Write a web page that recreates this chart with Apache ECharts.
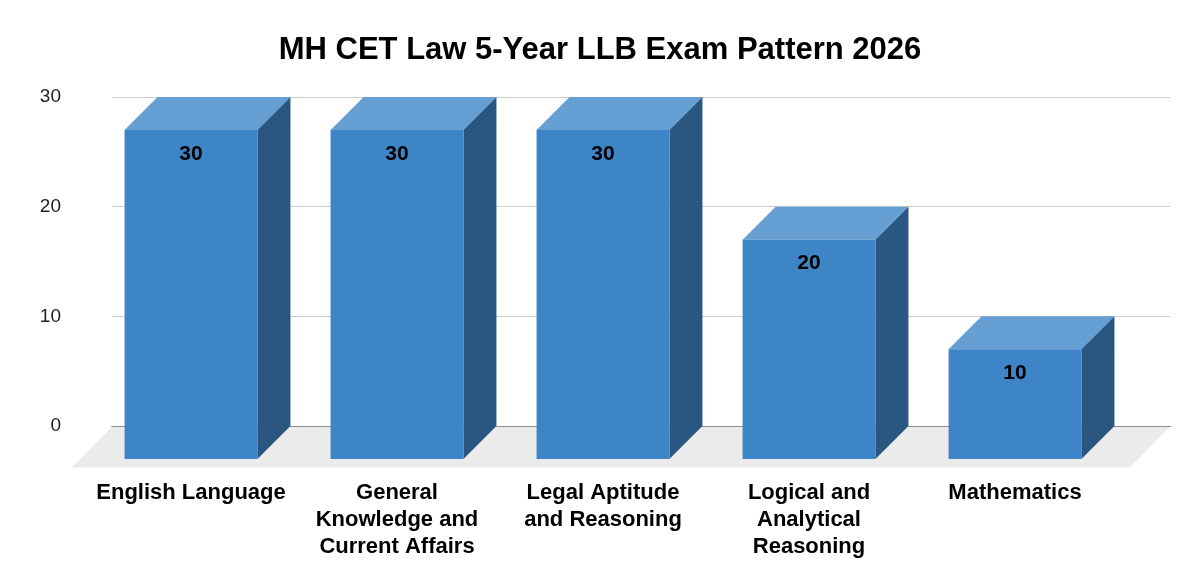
<!DOCTYPE html>
<html>
<head>
<meta charset="utf-8">
<title>MH CET Law 5-Year LLB Exam Pattern 2026</title>
<script src="https://cdn.jsdelivr.net/npm/echarts@6/dist/echarts.min.js"></script>
<style>
  html, body { margin: 0; padding: 0; background: #fff; }
  #chart-container { width: 1200px; height: 587px; }
</style>
</head>
<body>
<div id="chart-container"></div>
<script>
// data
var categories = [
  "English Language",
  "General\nKnowledge and\nCurrent Affairs",
  "Legal Aptitude\nand Reasoning",
  "Logical and\nAnalytical\nReasoning",
  "Mathematics"
];
var marks = [30, 30, 30, 20, 10];
var yTicks = [0, 10, 20, 30];

var depth = 33;      // 3d offset of bar box
var floorDepth = 40; // offset of the grey floor
var fontName = "Liberation Sans, Arial, sans-serif";

var dom = document.getElementById("chart-container");
var myChart = echarts.init(dom, null, { renderer: "canvas" });

function renderFloor(params, api) {
  var cs = params.coordSys;
  var yb = cs.y + cs.height + 0.5;
  return {
    type: "polygon",
    shape: {
      points: [
        [cs.x, yb],
        [cs.x + cs.width, yb],
        [cs.x + cs.width - floorDepth, yb + floorDepth + 1],
        [cs.x - floorDepth, yb + floorDepth + 1]
      ]
    },
    style: { fill: "#ebebeb" }
  };
}

function renderBar(params, api) {
  var v = api.value(1);
  var top = api.coord([api.value(0), v]);
  var base = api.coord([api.value(0), 0]);
  var w = api.size([1, 0])[0] * 0.645;
  var x0 = top[0] - w / 2;
  var x1 = top[0] + w / 2;
  var yT = top[1] + depth;
  var yB = base[1] + depth;
  return {
    type: "group",
    children: [
      {
        type: "polygon",
        shape: { points: [[x0, yT], [x1, yT], [x1 + depth, yT - depth], [x0 + depth, yT - depth]] },
        style: { fill: "#659fd3" }
      },
      {
        type: "polygon",
        shape: { points: [[x1, yT], [x1 + depth, yT - depth], [x1 + depth, yB - depth], [x1, yB]] },
        style: { fill: "#2a5781" }
      },
      {
        type: "rect",
        shape: { x: x0, y: yT, width: w, height: yB - yT },
        style: { fill: "#3d85c6" }
      },
      {
        type: "text",
        style: {
          text: String(v),
          x: top[0],
          y: yT + 24,
          align: "center",
          verticalAlign: "middle",
          fill: "#000",
          font: "bold 21px " + fontName
        }
      }
    ]
  };
}

var option = {
  backgroundColor: "#fff",
  animation: false,
  title: {
    text: "MH CET Law 5-Year LLB Exam Pattern 2026",
    left: "center",
    top: 30,
    textStyle: { fontFamily: fontName, fontSize: 31, fontWeight: "bold", color: "#000" }
  },
  grid: [
    { left: 112, right: 30, top: 97, bottom: 161 },
    { left: 88, right: 82, top: 97, bottom: 161 }
  ],
  xAxis: [
    {
      type: "category",
      gridIndex: 0,
      data: categories,
      axisLine: { show: true, lineStyle: { color: "#333", width: 1 } },
      axisTick: { show: false },
      axisLabel: { show: false }
    },
    {
      type: "category",
      gridIndex: 1,
      data: categories,
      axisLine: { show: false },
      axisTick: { show: false },
      axisLabel: {
        margin: 53,
        color: "#000",
        fontFamily: fontName,
        fontSize: 22,
        fontWeight: "bold",
        lineHeight: 27,
        interval: 0
      }
    }
  ],
  yAxis: [
    {
      type: "value",
      gridIndex: 0,
      min: yTicks[0],
      max: yTicks[yTicks.length - 1],
      interval: 10,
      axisLine: { show: false },
      axisTick: { show: false },
      axisLabel: { margin: 51, color: "#222", fontFamily: fontName, fontSize: 19, padding: [4, 0, 0, 0] },
      splitLine: { lineStyle: { color: "#cccccc", width: 1 } }
    },
    {
      type: "value",
      gridIndex: 1,
      min: yTicks[0],
      max: yTicks[yTicks.length - 1],
      interval: 10,
      show: false,
      splitLine: { show: false }
    }
  ],
  series: [
    {
      type: "custom",
      xAxisIndex: 0,
      yAxisIndex: 0,
      data: [[0, 0]],
      renderItem: renderFloor,
      z: 1,
      silent: true
    },
    {
      type: "custom",
      xAxisIndex: 1,
      yAxisIndex: 1,
      data: marks.map(function (m, i) { return [i, m]; }),
      encode: { x: 0, y: 1 },
      renderItem: renderBar,
      z: 3
    }
  ]
};

myChart.setOption(option);
window.addEventListener("resize", myChart.resize);
</script>
</body>
</html>
